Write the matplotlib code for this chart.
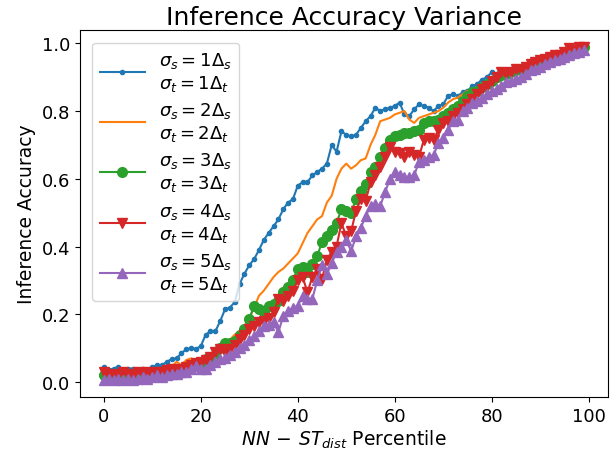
import matplotlib
matplotlib.use("Agg")
import matplotlib.pyplot as plt
import numpy as np

percentile = list(range(100))

acc_s1 = [0.045, 0.035, 0.04, 0.045, 0.035, 0.04, 0.04, 0.035, 0.038, 0.035,
          0.045, 0.05, 0.05, 0.06, 0.068, 0.07, 0.085, 0.097, 0.10, 0.098,
          0.106, 0.14, 0.15, 0.15, 0.18, 0.215, 0.22, 0.236, 0.29, 0.32,
          0.345, 0.363, 0.39, 0.42, 0.44, 0.46, 0.48, 0.51, 0.53, 0.54,
          0.58, 0.59, 0.59, 0.61, 0.62, 0.63, 0.645, 0.70, 0.68, 0.74,
          0.73, 0.725, 0.73, 0.75, 0.77, 0.785, 0.81, 0.80, 0.805, 0.81,
          0.815, 0.825, 0.79, 0.785, 0.805, 0.82, 0.815, 0.81, 0.80, 0.815,
          0.82, 0.845, 0.85, 0.845, 0.855, 0.86, 0.873, 0.88, 0.893, 0.90,
          0.915, 0.91, 0.915, 0.92, 0.925, 0.92, 0.93, 0.935, 0.94, 0.945,
          0.95, 0.955, 0.955, 0.96, 0.965, 0.97, 0.975, 0.98, 0.985, 0.99]

acc_s2 = [0.02, 0.02, 0.025, 0.02, 0.025, 0.025, 0.02, 0.025, 0.025, 0.03,
          0.03, 0.03, 0.035, 0.04, 0.045, 0.06, 0.05, 0.065, 0.07, 0.06,
          0.065, 0.075, 0.08, 0.08, 0.10, 0.115, 0.125, 0.14, 0.15, 0.165,
          0.19, 0.22, 0.255, 0.27, 0.29, 0.31, 0.325, 0.335, 0.35, 0.365,
          0.38, 0.41, 0.44, 0.46, 0.48, 0.49, 0.53, 0.55, 0.60, 0.63,
          0.645, 0.63, 0.64, 0.655, 0.66, 0.70, 0.73, 0.77, 0.775, 0.78,
          0.79, 0.795, 0.80, 0.775, 0.765, 0.78, 0.785, 0.79, 0.795, 0.80,
          0.81, 0.825, 0.835, 0.84, 0.85, 0.86, 0.865, 0.87, 0.875, 0.885,
          0.895, 0.90, 0.91, 0.915, 0.92, 0.92, 0.925, 0.93, 0.935, 0.94,
          0.945, 0.95, 0.955, 0.96, 0.965, 0.97, 0.97, 0.975, 0.985, 0.99]

acc_s3 = [0.02, 0.015, 0.02, 0.02, 0.015, 0.02, 0.02, 0.02, 0.025, 0.02,
          0.025, 0.025, 0.03, 0.03, 0.035, 0.035, 0.04, 0.045, 0.05, 0.05,
          0.055, 0.068, 0.07, 0.08, 0.10, 0.115, 0.115, 0.12, 0.14, 0.156,
          0.186, 0.225, 0.215, 0.206, 0.225, 0.23, 0.24, 0.265, 0.28, 0.30,
          0.335, 0.34, 0.325, 0.35, 0.372, 0.413, 0.43, 0.45, 0.47, 0.51,
          0.505, 0.50, 0.54, 0.565, 0.585, 0.62, 0.635, 0.665, 0.69, 0.715,
          0.725, 0.73, 0.735, 0.735, 0.74, 0.745, 0.765, 0.77, 0.77, 0.775,
          0.785, 0.795, 0.805, 0.815, 0.83, 0.845, 0.855, 0.86, 0.87, 0.88,
          0.89, 0.90, 0.905, 0.91, 0.915, 0.92, 0.925, 0.93, 0.935, 0.94,
          0.945, 0.95, 0.955, 0.96, 0.965, 0.97, 0.975, 0.98, 0.985, 0.99]

acc_s4 = [0.03, 0.02, 0.025, 0.02, 0.03, 0.025, 0.02, 0.03, 0.025, 0.03,
          0.025, 0.03, 0.03, 0.035, 0.04, 0.035, 0.04, 0.045, 0.05, 0.055,
          0.06, 0.065, 0.075, 0.09, 0.097, 0.09, 0.097, 0.11, 0.127, 0.14,
          0.156, 0.165, 0.177, 0.18, 0.19, 0.206, 0.245, 0.24, 0.254, 0.27,
          0.30, 0.31, 0.265, 0.31, 0.335, 0.305, 0.36, 0.385, 0.40, 0.47,
          0.43, 0.445, 0.505, 0.54, 0.535, 0.59, 0.61, 0.635, 0.665, 0.695,
          0.68, 0.675, 0.665, 0.68, 0.67, 0.665, 0.715, 0.72, 0.715, 0.745,
          0.765, 0.77, 0.785, 0.795, 0.805, 0.82, 0.835, 0.85, 0.865, 0.875,
          0.89, 0.90, 0.915, 0.91, 0.915, 0.925, 0.92, 0.93, 0.94, 0.945,
          0.95, 0.955, 0.96, 0.965, 0.965, 0.975, 0.985, 0.98, 0.99, 0.99]

acc_s5 = [0.005, 0.01, 0.005, 0.01, 0.005, 0.01, 0.005, 0.01, 0.015, 0.01,
          0.015, 0.02, 0.015, 0.02, 0.025, 0.025, 0.03, 0.03, 0.04, 0.047,
          0.04, 0.038, 0.05, 0.06, 0.068, 0.07, 0.08, 0.088, 0.10, 0.11,
          0.125, 0.136, 0.15, 0.165, 0.17, 0.177, 0.147, 0.195, 0.21, 0.22,
          0.225, 0.254, 0.245, 0.245, 0.30, 0.345, 0.318, 0.352, 0.383, 0.40,
          0.42, 0.386, 0.43, 0.455, 0.49, 0.52, 0.525, 0.52, 0.56, 0.60,
          0.62, 0.61, 0.605, 0.605, 0.61, 0.65, 0.655, 0.665, 0.67, 0.705,
          0.72, 0.745, 0.77, 0.775, 0.80, 0.81, 0.825, 0.83, 0.84, 0.85,
          0.86, 0.865, 0.875, 0.885, 0.89, 0.895, 0.90, 0.91, 0.92, 0.925,
          0.93, 0.94, 0.945, 0.95, 0.955, 0.96, 0.965, 0.97, 0.975, 0.98]

labels = [
    "$\\sigma_s = 1\\Delta_s$\n$\\sigma_t = 1\\Delta_t$",
    "$\\sigma_s = 2\\Delta_s$\n$\\sigma_t = 2\\Delta_t$",
    "$\\sigma_s = 3\\Delta_s$\n$\\sigma_t = 3\\Delta_t$",
    "$\\sigma_s = 4\\Delta_s$\n$\\sigma_t = 4\\Delta_t$",
    "$\\sigma_s = 5\\Delta_s$\n$\\sigma_t = 5\\Delta_t$",
]

fig = plt.figure(figsize=(6.14, 4.56), dpi=100)
ax = fig.add_axes([0.130, 0.127, 0.860, 0.805])

ax.plot(percentile, acc_s1, color="#1f77b4", marker=".", markersize=6, lw=1.5, label=labels[0])
ax.plot(percentile, acc_s2, color="#ff7f0e", lw=1.5, label=labels[1])
ax.plot(percentile, acc_s3, color="#2ca02c", marker="o", markersize=7, lw=1.5, label=labels[2])
ax.plot(percentile, acc_s4, color="#d62728", marker="v", markersize=7, lw=1.5, label=labels[3])
ax.plot(percentile, acc_s5, color="#9467bd", marker="^", markersize=7, lw=1.5, label=labels[4])

ax.set_xticks([0, 20, 40, 60, 80, 100])
ax.set_yticks([0.0, 0.2, 0.4, 0.6, 0.8, 1.0])
ax.tick_params(labelsize=13)
ax.set_title("Inference Accuracy Variance", fontsize=18, pad=4)
ax.set_xlabel("$NN\\,-\\,ST_{dist}$ Percentile", fontsize=13.5, labelpad=2)
ax.set_ylabel("Inference Accuracy", fontsize=13.5)
ax.legend(loc="upper left", fontsize=13, handlelength=2.5, labelspacing=0.4,
          borderpad=0.4, borderaxespad=0.7)

fig.savefig("out.png", dpi=100)
